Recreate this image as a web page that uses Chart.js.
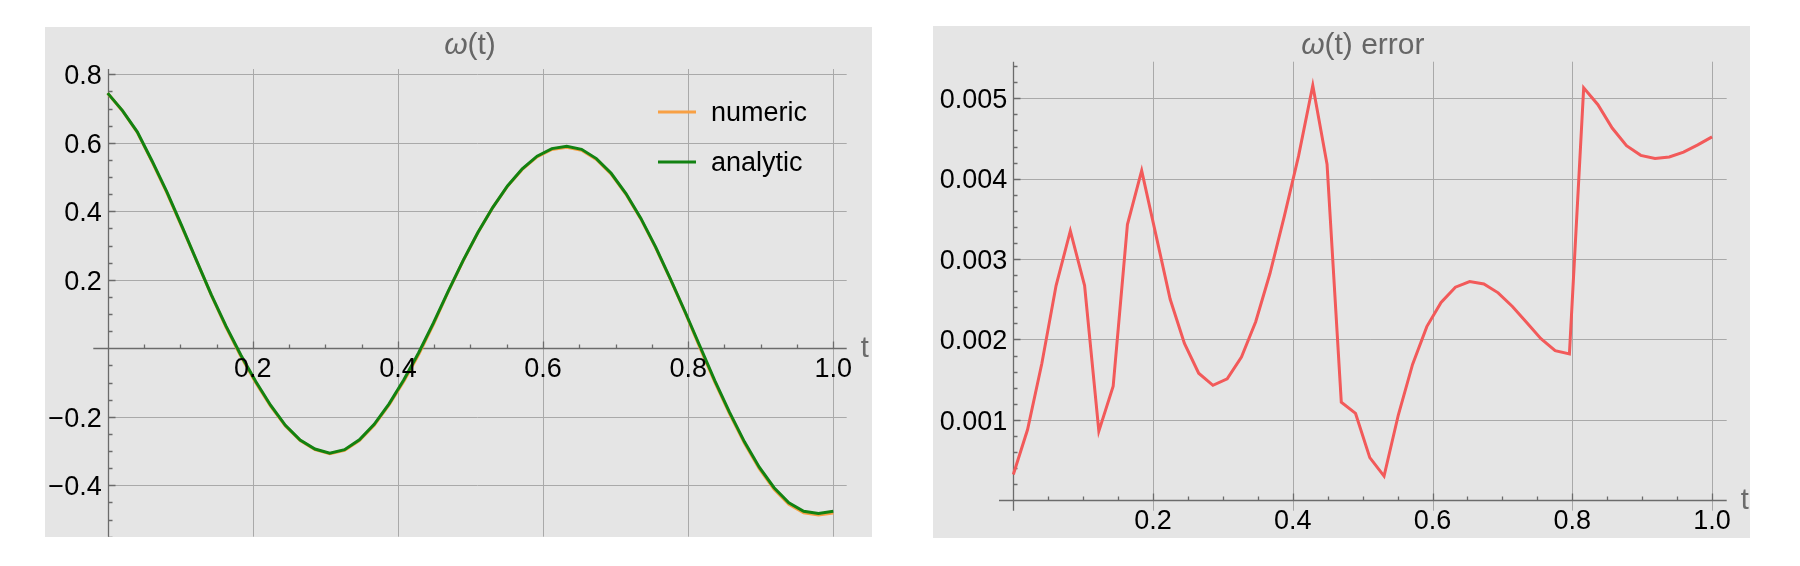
<!DOCTYPE html>
<html lang="en">
<head>
<meta charset="UTF-8">
<title>omega(t) and its error</title>
<script src="https://cdn.jsdelivr.net/npm/chart.js@4"></script>
<style>
  body { margin: 0; background: #fff; width: 1800px; height: 566px; position: relative; overflow: hidden; }
  canvas { position: absolute; background: #e5e5e5; }
  #left { left: 45px; top: 27px; }
  #right { left: 933px; top: 26px; }
</style>
</head>
<body>
<canvas id="left" width="827" height="510"></canvas>
<canvas id="right" width="817" height="512"></canvas>
<script>
// sample times (t = k/49)
const tValues = [0, 0.0204, 0.0408, 0.0612, 0.0816, 0.1020, 0.1224, 0.1429, 0.1633, 0.1837,
  0.2041, 0.2245, 0.2449, 0.2653, 0.2857, 0.3061, 0.3265, 0.3469, 0.3673, 0.3878,
  0.4082, 0.4286, 0.4490, 0.4694, 0.4898, 0.5102, 0.5306, 0.5510, 0.5714, 0.5918,
  0.6122, 0.6327, 0.6531, 0.6735, 0.6939, 0.7143, 0.7347, 0.7551, 0.7755, 0.7959,
  0.8163, 0.8367, 0.8571, 0.8776, 0.8980, 0.9184, 0.9388, 0.9592, 0.9796, 1.0];

const analytic = [0.745, 0.694, 0.632, 0.547, 0.457, 0.358, 0.257, 0.156, 0.064, -0.020,
  -0.097, -0.166, -0.225, -0.268, -0.294, -0.306, -0.296, -0.267, -0.222, -0.162,
  -0.092, -0.013, 0.074, 0.167, 0.256, 0.338, 0.411, 0.474, 0.524, 0.561,
  0.583, 0.590, 0.581, 0.554, 0.511, 0.452, 0.380, 0.296, 0.203, 0.106,
  0.006, -0.094, -0.187, -0.273, -0.347, -0.407, -0.451, -0.476, -0.482, -0.476];

const numeric = [0.7447, 0.6931, 0.6303, 0.5443, 0.4537, 0.3553, 0.2561, 0.1546, 0.0606, -0.0241,
  -0.1003, -0.1685, -0.2270, -0.2696, -0.2954, -0.3075, -0.2978, -0.2692, -0.2248, -0.1655,
  -0.0963, -0.0182, 0.0698, 0.1658, 0.2549, 0.3375, 0.4107, 0.4729, 0.5223, 0.5588,
  0.5805, 0.5873, 0.5783, 0.5513, 0.5084, 0.4496, 0.3778, 0.2940, 0.2011, 0.1042,
  0.0009, -0.0989, -0.1916, -0.2774, -0.3513, -0.4113, -0.4553, -0.4803, -0.4864, -0.4805];

const errorValues = [0.00032, 0.00088, 0.00170, 0.00267, 0.00335, 0.00267, 0.00086, 0.00142, 0.00343, 0.00410,
  0.00330, 0.00250, 0.00195, 0.00158, 0.00143, 0.00151, 0.00178, 0.00222, 0.00282, 0.00353,
  0.00428, 0.00516, 0.00418, 0.00122, 0.00108, 0.00053, 0.00030, 0.00106, 0.00169, 0.00216,
  0.00246, 0.00265, 0.00272, 0.00269, 0.00258, 0.00241, 0.00221, 0.00201, 0.00186, 0.00182,
  0.00513, 0.00492, 0.00463, 0.00441, 0.00429, 0.00425, 0.00427, 0.00433, 0.00442, 0.00452];

// tick labels
const xTicks = [0.2, 0.4, 0.6, 0.8, 1.0];
const xTickLabels = ['0.2', '0.4', '0.6', '0.8', '1.0'];
const leftYTicks = [0.8, 0.6, 0.4, 0.2, -0.2, -0.4];
const leftYTickLabels = ['0.8', '0.6', '0.4', '0.2', '\u22120.2', '\u22120.4'];
const rightYTicks = [0.001, 0.002, 0.003, 0.004, 0.005];
const rightYTickLabels = ['0.001', '0.002', '0.003', '0.004', '0.005'];

const FONT = '"Liberation Sans", Arial, Helvetica, sans-serif';

function pts(ys) {
  return tValues.map((t, i) => ({ x: t, y: ys[i] }));
}

// Mathematica-style axes through the origin, grid, ticks, title and legend
const mmaFrame = {
  id: 'mmaFrame',
  beforeDatasetsDraw(chart, args, o) {
    const { ctx, chartArea: a, scales: { x, y } } = chart;
    const x0 = Math.round(x.getPixelForValue(0)) + 0.5;
    const y0 = Math.round(y.getPixelForValue(0)) + 0.5;
    ctx.save();
    ctx.lineWidth = 1;
    ctx.strokeStyle = '#a9a9a9';
    ctx.beginPath();
    o.xTicks.forEach(v => {
      const px = Math.round(x.getPixelForValue(v)) + 0.5;
      ctx.moveTo(px, a.top); ctx.lineTo(px, a.bottom);
    });
    o.yTicks.forEach(v => {
      const py = Math.round(y.getPixelForValue(v)) + 0.5;
      ctx.moveTo(x0, py); ctx.lineTo(a.right, py);
    });
    ctx.stroke();

    ctx.strokeStyle = '#6b6b6b';
    ctx.lineWidth = 1.3;
    ctx.beginPath();
    ctx.moveTo(a.left, y0); ctx.lineTo(a.right, y0);
    ctx.moveTo(x0, a.top); ctx.lineTo(x0, a.bottom);
    // x ticks, pointing up
    for (let k = 1; k * o.xMinor <= x.max + 1e-9; k++) {
      const px = Math.round(x.getPixelForValue(k * o.xMinor)) + 0.5;
      const len = k % o.xPer === 0 ? 7 : 4;
      ctx.moveTo(px, y0); ctx.lineTo(px, y0 - len);
    }
    // y ticks, pointing right
    const kLo = Math.ceil(y.min / o.yMinor - 1e-6), kHi = Math.floor(y.max / o.yMinor + 1e-6);
    for (let k = kLo; k <= kHi; k++) {
      if (k === 0) continue;
      const py = Math.round(y.getPixelForValue(k * o.yMinor)) + 0.5;
      const len = k % o.yPer === 0 ? 7 : 4;
      ctx.moveTo(x0, py); ctx.lineTo(x0 + len, py);
    }
    ctx.stroke();
    ctx.restore();
  },
  afterDraw(chart, args, o) {
    const { ctx, chartArea: a, scales: { x, y } } = chart;
    const x0 = x.getPixelForValue(0);
    const y0 = y.getPixelForValue(0);
    ctx.save();
    ctx.fillStyle = '#000';
    ctx.font = '27px ' + FONT;
    ctx.textAlign = 'center';
    ctx.textBaseline = 'alphabetic';
    o.xTicks.forEach((v, i) => ctx.fillText(o.xLabels[i], x.getPixelForValue(v), y0 + 29));
    ctx.textAlign = 'right';
    o.yTicks.forEach((v, i) => ctx.fillText(o.yLabels[i], x0 - 6, y.getPixelForValue(v) + 9.7));

    // axis label
    ctx.fillStyle = '#6b6b6b';
    ctx.textAlign = 'left';
    ctx.font = '29px ' + FONT;
    ctx.fillText('t', a.right + 14, y0 + 9);

    // title: italic omega then upright rest
    ctx.fillStyle = '#666';
    const f1 = 'italic 30px ' + FONT, f2 = '30px ' + FONT;
    ctx.font = f1; const w1 = ctx.measureText('\u03c9').width;
    ctx.font = f2; const w2 = ctx.measureText(o.title).width;
    let tx = (a.left + a.right) / 2 - (w1 + w2) / 2;
    ctx.font = f1; ctx.fillText('\u03c9', tx, o.titleY);
    ctx.font = f2; ctx.fillText(o.title, tx + w1, o.titleY);

    // legend inside the plot
    if (o.legend) {
      ctx.font = '27px ' + FONT;
      ctx.fillStyle = '#000';
      chart.data.datasets.forEach((ds, i) => {
        const ly = o.legend.y + i * o.legend.gap;
        ctx.strokeStyle = ds.borderColor;
        ctx.lineWidth = 3;
        ctx.beginPath();
        ctx.moveTo(o.legend.x, ly); ctx.lineTo(o.legend.x + 38, ly);
        ctx.stroke();
        ctx.fillText(ds.label, o.legend.x + 53, ly + 9.4);
      });
    }
    ctx.restore();
  }
};

const hidden = { display: false };

new Chart(document.getElementById('left'), {
  type: 'line',
  data: {
    datasets: [
      // analytic has the lower order so it is drawn on top of numeric
      { label: 'numeric', data: pts(numeric), borderColor: '#f8a044', borderWidth: 3, pointRadius: 0, tension: 0, order: 1 },
      { label: 'analytic', data: pts(analytic), borderColor: '#128212', borderWidth: 3, pointRadius: 0, tension: 0, order: 0 }
    ]
  },
  options: {
    responsive: false,
    animation: false,
    layout: { padding: { left: 48.3, right: 25.3, top: 42, bottom: 0.3 } },
    scales: {
      x: { type: 'linear', min: -0.0198, max: 1.0185, ...hidden },
      y: { type: 'linear', min: -0.55, max: 0.8155, ...hidden }
    },
    plugins: {
      legend: hidden,
      tooltip: { enabled: false },
      mmaFrame: {
        xTicks: xTicks, xLabels: xTickLabels, yTicks: leftYTicks, yLabels: leftYTickLabels,
        xMinor: 0.05, xPer: 4, yMinor: 0.05, yPer: 4,
        title: '(t)', titleY: 27,
        legend: { x: 613, y: 85, gap: 50 }
      }
    }
  },
  plugins: [mmaFrame]
});

new Chart(document.getElementById('right'), {
  type: 'line',
  data: {
    datasets: [
      { label: 'error', data: pts(errorValues), borderColor: '#f25a5a', borderWidth: 3, pointRadius: 0, tension: 0 }
    ]
  },
  options: {
    responsive: false,
    animation: false,
    layout: { padding: { left: 66, right: 23.3, top: 35.7, bottom: 27.3 } },
    scales: {
      x: { type: 'linear', min: -0.0205, max: 1.021, ...hidden },
      y: { type: 'linear', min: -0.00013, max: 0.005455, ...hidden }
    },
    plugins: {
      legend: hidden,
      tooltip: { enabled: false },
      mmaFrame: {
        xTicks: xTicks, xLabels: xTickLabels, yTicks: rightYTicks, yLabels: rightYTickLabels,
        xMinor: 0.05, xPer: 4, yMinor: 0.0002, yPer: 5,
        title: '(t) error', titleY: 28
      }
    }
  },
  plugins: [mmaFrame]
});
</script>
</body>
</html>
